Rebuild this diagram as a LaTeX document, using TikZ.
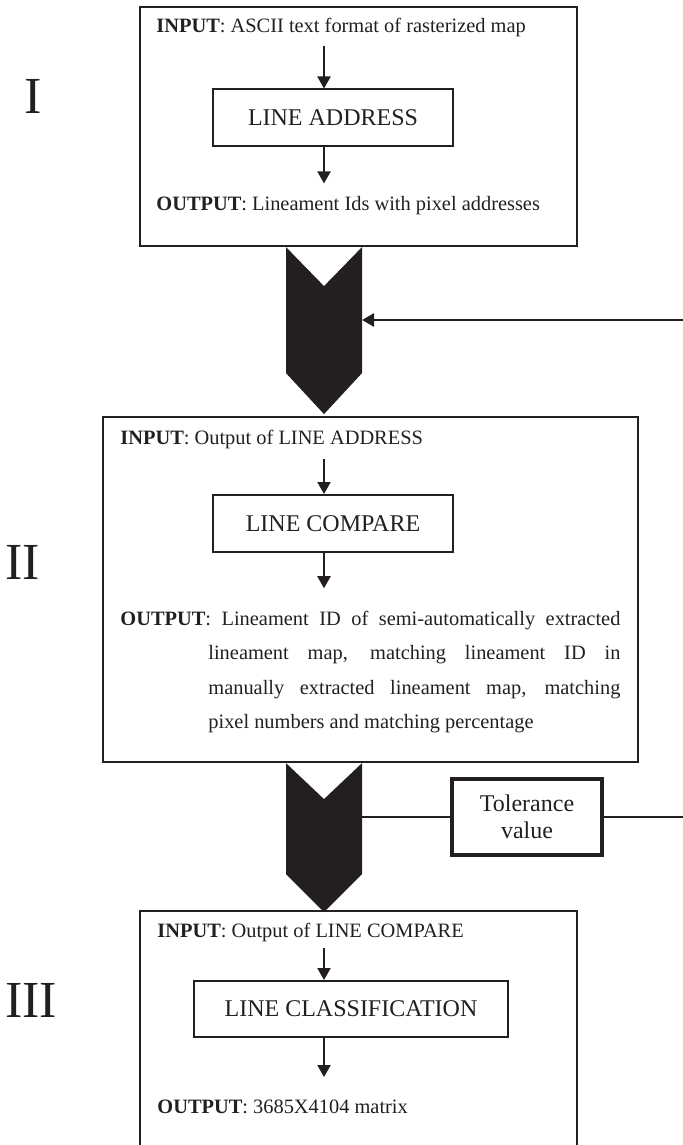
\documentclass[tikz,border=0pt]{standalone}
\usepackage{fontspec}
\setmainfont{Liberation Serif}
\usetikzlibrary{arrows.meta}
\definecolor{ink}{RGB}{35,31,32}

\begin{document}
\begin{tikzpicture}[
  x=0.5pt, y=-0.5pt,
  every node/.style={font=\fontsize{10.2}{12}\selectfont, text=ink},
  stage/.style={draw=ink, line width=1.1pt, rectangle, inner sep=0},
  task/.style={draw=ink, line width=1pt, rectangle, inner sep=0,
    minimum width=120pt, minimum height=28pt, font=\fontsize{12}{14}\selectfont},
  io/.style={anchor=base west, inner sep=0},
  flow/.style={draw=ink, line width=1pt, -{Triangle[length=6pt,width=6.5pt]}},
  feed/.style={draw=ink, line width=1.3pt, -{Triangle[length=6pt,width=6.5pt]}},
  tie/.style={draw=ink, line width=1.2pt},
  tolbox/.style={draw=ink, line width=1.8pt, rectangle, minimum width=75pt,
    minimum height=38pt, align=center, font=\fontsize{12}{13.5}\selectfont},
  numeral/.style={font=\fontsize{26}{30}\selectfont, inner sep=0}
]
\useasboundingbox (0,0) rectangle (683,1145);
\clip (0,0) rectangle (683,1145);
\coordinate (axis) at (324,0);

% stage I
\node[numeral] (numI) at (33,96) {I};
\node[stage, minimum width=218.5pt, minimum height=119.5pt] (stageI) at (358.5,126.5) {};
\node[io] (inI) at (156,33) {\textbf{INPUT}: ASCII text format of rasterized map};
\node[task] (addr) at (333,117.5) {LINE ADDRESS};
\node[io] (outI) at (156,210) {\textbf{OUTPUT}: Lineament Ids with pixel addresses};
\draw[flow, shorten <=4pt] (inI.south -| axis) -- (addr.north -| axis);
\draw[flow, shorten >=6pt] (addr.south -| axis) -- (outI.north -| axis);

% stage II
\node[numeral] (numII) at (23,562) {II};
\node[stage, minimum width=267.5pt, minimum height=172.5pt] (stageII) at (370.5,589.5) {};
\node[io] (inII) at (120,444) {\textbf{INPUT}: Output of LINE ADDRESS};
\node[task, minimum height=28.5pt] (cmp) at (333,523.5) {LINE COMPARE};
\node[io, text width=250pt, align=justify, font=\fontsize{10.2}{17.25}\selectfont] (outII) at (120,625) {%
  \hangindent=44pt\hangafter=1
  \textbf{OUTPUT}: Lineament ID of semi-automatically extracted\linebreak
  lineament map, matching lineament ID in\linebreak
  manually extracted lineament map, matching\linebreak
  pixel numbers and matching percentage\par};
\draw[flow, shorten <=5pt] (inII.south -| axis) -- (cmp.north -| axis);
\draw[flow, shorten >=11pt] (cmp.south -| axis) -- (outII.north -| axis);

% stage III (runs off the page)
\node[numeral] (numIII) at (31,1000) {III};
\node[stage, minimum width=218.5pt, minimum height=125pt] (stageIII) at (358.5,1036) {};
\node[io] (inIII) at (157,937) {\textbf{INPUT}: Output of LINE COMPARE};
\node[task, minimum width=157pt] (cls) at (351,1009) {LINE CLASSIFICATION};
\node[io] (outIII) at (157,1113) {\textbf{OUTPUT}: 3685X4104 matrix};
\draw[flow, shorten <=3pt] (inIII.south -| axis) -- (cls.north -| axis);
\draw[flow, shorten >=11pt] (cls.south -| axis) -- (outIII.north -| axis);

% chevrons between stages
\fill[ink] (stageI.south -| axis) ++(-38,0) -- ++(38,39) -- ++(38,-39)
  -- ++(0,126) -- ++(-38,41) -- ++(-38,-41) -- cycle;
\fill[ink] (stageII.south -| axis) ++(-38,0) -- ++(38,36) -- ++(38,-36)
  -- ++(0,111) -- ++(-38,38) -- ++(-38,-38) -- cycle;

% side inputs
\coordinate (feedI) at (683,320);
\coordinate (sideI) at (362,320);
\draw[feed] (feedI) -- (sideI);
\node[tolbox] (tol) at (527,817) {Tolerance\\value};
\coordinate (sideII) at (362,817);
\coordinate (feedII) at (683,817);
\draw[tie] (sideII) -- (tol.west);
\draw[tie] (tol.east) -- (feedII);
\end{tikzpicture}
\end{document}
